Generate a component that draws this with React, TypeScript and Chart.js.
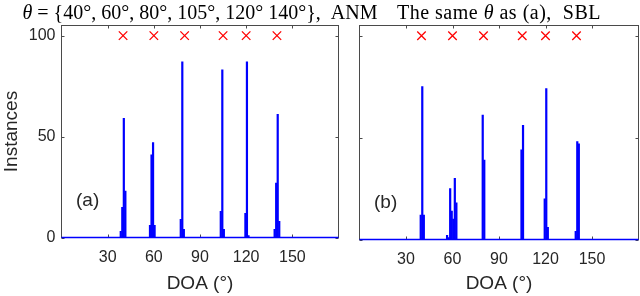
import React, { useEffect, useRef } from "react";
import { Chart, registerables } from "chart.js";

Chart.register(...registerables);

// True source directions (red crosses) and the level they are plotted at
const trueDoa = [40, 60, 80, 105, 120, 140];
const trueLevel = [100, 100, 100, 100, 100, 100];

// (a) ANM histogram: bin centres (degrees) and instance counts
const anmDoa = [38.5, 39.5, 40.5, 41.5, 57.5, 58.5, 59.5, 60.5, 77.5, 78.5, 79.5, 103.5, 104.5, 105.5, 119.5, 120.5, 121.5, 138.5, 139.5, 140.5, 141.5];
const anmCount = [3, 15, 59, 23, 6, 41, 47, 6, 9, 87, 4, 13, 83, 4, 12, 87, 1, 4, 27, 61, 8];

// (b) SBL histogram
const sblDoa = [39.5, 40.5, 41.5, 56.5, 57.5, 58.5, 59.5, 60.5, 61.5, 62.5, 79.5, 80.5, 104.5, 105.5, 119.5, 120.5, 121.5, 139.5, 140.5, 141.5];
const sblCount = [12, 75, 12, 2, 1, 25, 14, 10, 30, 18, 61, 39, 44, 56, 20, 74, 6, 4, 48, 47];

// Empty bins along the whole DOA range (the histogram's zero line)
const baseDoa = [0, 180];
const baseCount = [0, 0];

const xTickValues = [30, 60, 90, 120, 150];
const yTickValues = [0, 50, 100];
const xRange = [0, 180];
const yRange = [0, 105];

const xTitle = "DOA (°)";
const yTitle = "Instances";
const titleA = [
  { t: "θ", i: true },
  { t: " = {40°, 60°, 80°, 105°, 120° 140°},  ANM", i: false },
];
const titleB = [
  { t: "The same ", i: false },
  { t: "θ", i: true },
  { t: " as (a),  SBL", i: false },
];
const tagA = "(a)";
const tagB = "(b)";

const W = 640;
const H = 296;
const SANS = '"Liberation Sans", Arial, Helvetica, sans-serif';
const SERIF = '"Liberation Serif", "Times New Roman", serif';
const TEXT = "#262626";
const AXIS = "#4a4a4a";
const BLUE = "#0000ff";
const RED = "#ff0000";
const TICK = 3;

type Run = { t: string; i: boolean };
type PanelSpec = {
  doa: number[];
  count: number[];
  title: Run[];
  titleSpacing: number;
  tag: string;
  left: number;
  right: number;
  top: number;
  bottom: number;
  showY: boolean;
};

function makeChart(canvas: HTMLCanvasElement, p: PanelSpec) {
  const frame = {
    id: "frame",
    beforeDatasetsDraw(chart: any) {
      const { ctx, chartArea: a } = chart;
      const xs = chart.scales.x;
      const ys = chart.scales.y;
      ctx.save();
      ctx.strokeStyle = AXIS;
      ctx.lineWidth = 1;
      ctx.beginPath();
      for (const v of xTickValues) {
        const px = Math.round(xs.getPixelForValue(v)) + 0.5;
        ctx.moveTo(px, a.bottom);
        ctx.lineTo(px, a.bottom - TICK);
        ctx.moveTo(px, a.top);
        ctx.lineTo(px, a.top + TICK);
      }
      for (const v of yTickValues) {
        const py = Math.round(ys.getPixelForValue(v)) + 0.5;
        ctx.moveTo(a.left, py);
        ctx.lineTo(a.left + TICK, py);
        ctx.moveTo(a.right, py);
        ctx.lineTo(a.right - TICK, py);
      }
      ctx.stroke();
      ctx.strokeRect(a.left, a.top, a.right - a.left, a.bottom - a.top);
      ctx.restore();
    },
    afterDraw(chart: any) {
      const { ctx, chartArea: a } = chart;
      ctx.save();
      const size = 20;
      const fontOf = (it: boolean) => `${it ? "italic " : ""}${size}px ${SERIF}`;
      ctx.letterSpacing = `${p.titleSpacing}px`;
      let total = 0;
      for (const r of p.title) {
        ctx.font = fontOf(r.i);
        total += ctx.measureText(r.t).width;
      }
      let x = (a.left + a.right) / 2 - total / 2;
      ctx.fillStyle = "#000";
      ctx.textBaseline = "middle";
      ctx.textAlign = "left";
      for (const r of p.title) {
        ctx.font = fontOf(r.i);
        ctx.fillText(r.t, x, 13.5);
        x += ctx.measureText(r.t).width;
      }
      ctx.letterSpacing = "0px";
      ctx.font = `19px ${SANS}`;
      ctx.fillStyle = TEXT;
      ctx.fillText(p.tag, a.left + 14.5, a.bottom - 36.5);
      ctx.restore();
    },
  };

  return new Chart(canvas, {
    type: "bar",
    data: {
      datasets: [
        {
          type: "scatter",
          data: trueDoa.map((d, i) => ({ x: d, y: trueLevel[i] })),
          pointStyle: "crossRot",
          radius: 6,
          borderColor: RED,
          backgroundColor: RED,
          borderWidth: 1.3,
          clip: false,
        } as any,
        {
          type: "line",
          data: baseDoa.map((d, i) => ({ x: d, y: baseCount[i] })),
          borderColor: BLUE,
          borderWidth: 1.6,
          pointRadius: 0,
          clip: false,
        } as any,
        {
          type: "bar",
          data: p.doa.map((d, i) => ({ x: d, y: p.count[i] })),
          backgroundColor: BLUE,
          borderWidth: 0,
          barPercentage: 1,
          categoryPercentage: 1,
        } as any,
      ],
    },
    options: {
      responsive: false,
      animation: false,
      events: [],
      layout: { autoPadding: false, padding: { top: p.top, right: W - p.right, left: 0, bottom: 0 } },
      plugins: { legend: { display: false }, tooltip: { enabled: false } },
      scales: {
        x: {
          type: "linear",
          min: xRange[0],
          max: xRange[1],
          offset: false,
          grid: { display: false, drawTicks: false, offset: false },
          border: { display: false },
          afterBuildTicks: (s: any) => {
            s.ticks = xTickValues.map((v) => ({ value: v }));
          },
          ticks: {
            autoSkip: false,
            maxRotation: 0,
            padding: 10,
            color: TEXT,
            font: { family: SANS, size: 16 },
          },
          title: {
            display: true,
            text: xTitle,
            color: TEXT,
            font: { family: SANS, size: 19 },
            padding: { top: 0, bottom: 1 },
          },
          afterFit: (s: any) => {
            s.height = H - p.bottom;
          },
        },
        y: {
          type: "linear",
          min: yRange[0],
          max: yRange[1],
          grid: { display: false, drawTicks: false },
          border: { display: false },
          afterBuildTicks: (s: any) => {
            s.ticks = yTickValues.map((v) => ({ value: v }));
          },
          ticks: {
            display: p.showY,
            padding: 6,
            color: TEXT,
            font: { family: SANS, size: 16 },
          },
          title: {
            display: p.showY,
            text: yTitle,
            color: TEXT,
            font: { family: SANS, size: 19 },
            padding: { top: 0, bottom: 0 },
          },
          afterFit: (s: any) => {
            s.width = p.left;
          },
        },
      } as any,
    },
    plugins: [frame],
  } as any);
}

export default function App() {
  const refA = useRef<HTMLCanvasElement>(null);
  const refB = useRef<HTMLCanvasElement>(null);

  useEffect(() => {
    const a = makeChart(refA.current!, {
      doa: anmDoa,
      count: anmCount,
      title: titleA,
      titleSpacing: 0,
      tag: tagA,
      left: 61.5,
      right: 338.5,
      top: 25.5,
      bottom: 237.5,
      showY: true,
    });
    const b = makeChart(refB.current!, {
      doa: sblDoa,
      count: sblCount,
      title: titleB,
      titleSpacing: 0.5,
      tag: tagB,
      left: 359.5,
      right: 638.5,
      top: 25.5,
      bottom: 239.5,
      showY: false,
    });
    return () => {
      a.destroy();
      b.destroy();
    };
  }, []);

  return (
    <div style={{ position: "fixed", left: 0, top: 0, width: W, height: H, background: "#fff" }}>
      <canvas ref={refA} width={W} height={H} style={{ position: "absolute", left: 0, top: 0 }} />
      <canvas ref={refB} width={W} height={H} style={{ position: "absolute", left: 0, top: 0 }} />
    </div>
  );
}
